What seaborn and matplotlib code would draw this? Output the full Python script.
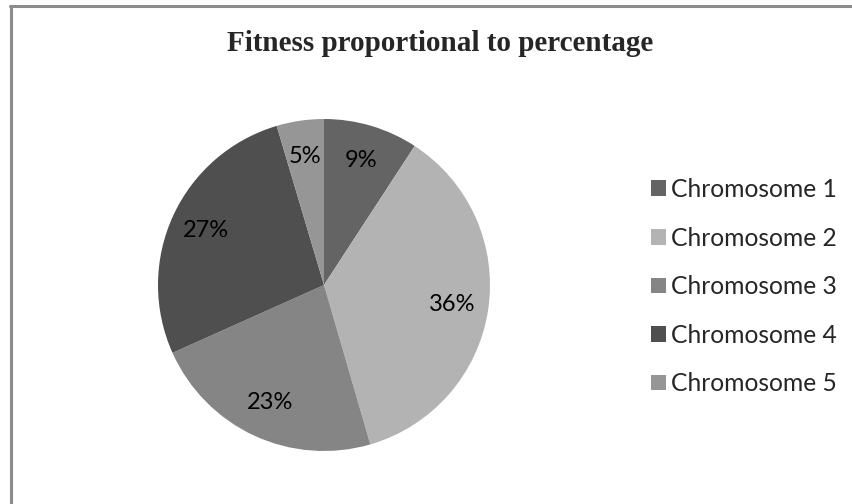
import matplotlib
matplotlib.use("Agg")
import matplotlib.pyplot as plt
import seaborn as sns
from matplotlib.lines import Line2D
from matplotlib.patches import Patch

# values (fitness share, %)
chromosomes = ["Chromosome 1", "Chromosome 2", "Chromosome 3", "Chromosome 4", "Chromosome 5"]
fitness_pct = [9.2, 36.3, 22.8, 27.1, 4.6]
slice_colors = ["#646464", "#b3b3b3", "#858585", "#4f4f4f", "#969696"]
chart_title = "Fitness proportional to percentage"

W, H = 853, 504
PIE_CX, PIE_CY, PIE_R = 324, 285, 166


def main():
    sns.set_theme(style="white")
    plt.rcParams["font.family"] = ["Lato", "DejaVu Sans"]

    fig = plt.figure(figsize=(W / 100, H / 100), dpi=100)
    fig.patch.set_facecolor("white")

    ax = fig.add_axes([
        (PIE_CX - PIE_R) / W,
        (H - PIE_CY - PIE_R) / H,
        2 * PIE_R / W,
        2 * PIE_R / H,
    ])
    wedges, texts, autotexts = ax.pie(
        fitness_pct,
        colors=slice_colors,
        startangle=90,
        counterclock=False,
        autopct="%.0f%%",
        pctdistance=0.78,
        radius=1.0,
        wedgeprops={"linewidth": 0},
        textprops={"fontsize": 17, "color": "black"},
    )
    ax.set_xlim(-1, 1)
    ax.set_ylim(-1, 1)
    ax.set_aspect("equal")
    ax.axis("off")

    fig.text(440 / W, 1 - 51 / H, chart_title, ha="center", va="baseline",
             fontsize=21, fontweight="bold", family=["Liberation Serif", "DejaVu Serif"])

    handles = [Patch(facecolor=c, edgecolor="none") for c in slice_colors]
    fig.legend(handles, chromosomes, loc="upper left",
               bbox_to_anchor=(651 / W, 1 - 178 / H),
               frameon=False, fontsize=17.7, handlelength=0.61, handleheight=0.61,
               handletextpad=0.2, labelspacing=1.04, borderaxespad=0, borderpad=0)

    border = "#8c8c8c"
    fig.add_artist(Line2D([10 / W, 1], [1 - 6 / H, 1 - 6 / H], color=border, lw=2.2,
                          transform=fig.transFigure))
    fig.add_artist(Line2D([11 / W, 11 / W], [0, 1 - 6 / H], color=border, lw=2.2,
                          transform=fig.transFigure))

    fig.savefig("out.png", dpi=100)
    plt.close(fig)


if __name__ == "__main__":
    main()
